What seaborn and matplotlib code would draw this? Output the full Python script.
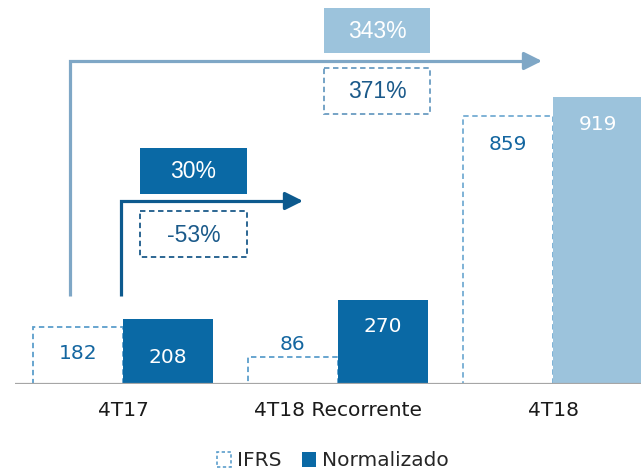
import numpy as np
import pandas as pd
import seaborn as sns
import matplotlib.pyplot as plt
from matplotlib.patches import Rectangle, Patch

categorias = ["4T17", "4T18 Recorrente", "4T18"]
ifrs = [182, 86, 859]
normalizado = [208, 270, 919]
series = ["IFRS", "Normalizado"]
var_topo = ["343%", "371%"]   # 4T17 -> 4T18: Normalizado, IFRS
var_meio = ["30%", "-53%"]    # 4T17 -> 4T18 Recorrente: Normalizado, IFRS

AZUL = "#0a69a5"
AZUL_CLARO = "#9cc3dc"
TRACO = "#5c9ecc"
TRACO_CLARO = "#74acd3"
TEXTO = "#1466a0"

sns.set_theme(style="white")
plt.rcParams["font.family"] = ["DejaVu Sans"]

df = pd.DataFrame({
    "categoria": categorias * 2,
    "valor": ifrs + normalizado,
    "serie": [series[0]] * 3 + [series[1]] * 3,
})

fig = plt.figure(figsize=(6.41, 4.75), dpi=100)
ax = fig.add_axes([15 / 641, 91 / 475, 626 / 641, 384 / 475])

sns.barplot(data=df, x="categoria", y="valor", hue="serie", hue_order=series,
            palette=[AZUL, AZUL], width=0.84, legend=False, ax=ax)

cont_ifrs, cont_norm = ax.containers[0], ax.containers[1]
for i, p in enumerate(cont_ifrs):
    p.set_facecolor("white")
    p.set_edgecolor(TRACO_CLARO if i == 2 else TRACO)
    p.set_linestyle((0, (3, 2)))
    p.set_linewidth(1.3)
for i, p in enumerate(cont_norm):
    p.set_facecolor(AZUL_CLARO if i == 2 else AZUL)
    p.set_edgecolor("none")

ax.set_xlim(-0.502, 2.409)
ax.set_ylim(0, 1230)
ax.axhline(0, color="#a6a6a6", lw=1.6, zorder=5)
for s in ax.spines.values():
    s.set_visible(False)
ax.set_yticks([])
ax.set_xlabel("")
ax.set_ylabel("")
ax.tick_params(axis="x", length=0, pad=12, labelsize=14.5, labelcolor="#1a1a1a")

# value labels (pixel offsets from bar top, negative = inside the bar)
off_ifrs = [-26, 13, -29]
off_norm = [-38, -27, -27]
for i, p in enumerate(cont_ifrs):
    ax.annotate(str(ifrs[i]), (p.get_x() + p.get_width() / 2, ifrs[i]),
                xytext=(0, off_ifrs[i]), textcoords="offset pixels",
                ha="center", va="center", fontsize=14.5, color=TEXTO)
for i, p in enumerate(cont_norm):
    ax.annotate(str(normalizado[i]), (p.get_x() + p.get_width() / 2, normalizado[i]),
                xytext=(0, off_norm[i]), textcoords="offset pixels",
                ha="center", va="center", fontsize=14.5, color="white", zorder=6)

# overlay in pixel coordinates for arrows and boxes
ov = fig.add_axes([0, 0, 1, 1])
ov.set_xlim(0, 641)
ov.set_ylim(475, 0)
ov.axis("off")
ov.patch.set_alpha(0)


def seta(x0, y0, y1, x1, cor):
    ov.plot([x0, x0, x1 - 10], [y0, y1, y1], color=cor, lw=2.3,
            solid_joinstyle="miter", solid_capstyle="butt")
    ov.annotate("", xy=(x1, y1), xytext=(x1 - 12, y1),
                arrowprops=dict(arrowstyle="-|>,head_length=0.9,head_width=0.45",
                                color=cor, lw=2.3, shrinkA=0, shrinkB=0))


def caixa(x, y, w, h, txt, cheia, cor_fundo, cor_texto):
    if cheia:
        ov.add_patch(Rectangle((x, y), w, h, facecolor=cor_fundo, edgecolor="none"))
    else:
        ov.add_patch(Rectangle((x, y), w, h, facecolor="white", edgecolor=cor_fundo,
                               lw=1.3, linestyle=(0, (3, 2))))
    ov.text(x + w / 2, y + h / 2 + 1, txt, ha="center", va="center",
            fontsize=16.5, color=cor_texto, family="Liberation Sans")


seta(70, 296, 61, 542, "#7fa7c6")
seta(121, 296, 201, 303, "#0d5a8e")

caixa(324, 8, 106, 45, var_topo[0], True, AZUL_CLARO, "white")
caixa(324, 68, 106, 46, var_topo[1], False, "#6a9cc2", "#1b5a8a")
caixa(140, 148, 107, 46, var_meio[0], True, AZUL, "white")
caixa(140, 211, 107, 46, var_meio[1], False, "#1b5a8a", "#1b5a8a")

handles = [Patch(facecolor="white", edgecolor=TRACO, linestyle=(0, (2, 1.5)), lw=1.2),
           Patch(facecolor=AZUL, edgecolor="none")]
fig.legend(handles, series, loc="center", bbox_to_anchor=(333 / 641, 1 - 461 / 475),
           ncol=2, frameon=False, fontsize=14.5, handlelength=0.7, handleheight=0.7,
           handletextpad=0.3, columnspacing=1.0)

fig.savefig("out.png", dpi=100)
